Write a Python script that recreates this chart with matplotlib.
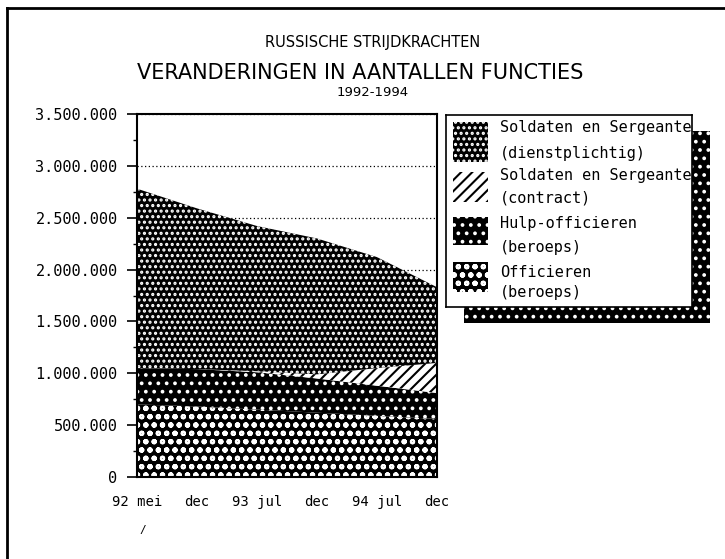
import numpy as np
import matplotlib.pyplot as plt
from matplotlib.patches import Rectangle
from matplotlib.lines import Line2D

plt.rcParams['font.family'] = ['DejaVu Sans Mono']
plt.rcParams['hatch.linewidth'] = 1.5

# x categories (equally spaced on the chart)
periods = ["92 mei", "dec", "93 jul", "dec", "94 jul", "dec"]

# number of posts, x1000 (stack order bottom -> top)
officieren = [700, 680, 650, 620, 590, 560]
hulp_officieren = [350, 360, 360, 330, 290, 250]
contract = [0, 0, 10, 40, 170, 290]
dienstplichtig = [1730, 1550, 1400, 1310, 1070, 730]

y_ticks = [0, 500000, 1000000, 1500000, 2000000, 2500000, 3000000, 3500000]
y_labels = ["0", "500.000", "1.000.000", "1.500.000", "2.000.000",
            "2.500.000", "3.000.000", "3.500.000"]

legend_lines = [("Soldaten en Sergeanten", "(dienstplichtig)"),
                ("Soldaten en Sergeanten", "(contract)"),
                ("Hulp-officieren", "(beroeps)"),
                ("Officieren", "(beroeps)")]

# face, hatch colour, hatch  (same order as the stack)
styles = [("black", "white", "oo"),
          ("black", "white", ".."),
          ("white", "black", "///"),
          ("black", "white", "...")]

fig = plt.figure(figsize=(7.25, 5.59), dpi=100)
W, H = 725, 559

ax = fig.add_axes([137 / W, 1 - 477 / H, 300 / W, 363 / H])
x = np.arange(len(periods))
layers = [officieren, hulp_officieren, contract, dienstplichtig]
base = np.zeros(len(x))
for vals, (fc, hc, h) in zip(layers, styles):
    top = base + np.array(vals) * 1000
    ax.fill_between(x, base, top, facecolor=fc, edgecolor=hc, hatch=h,
                    linewidth=0, zorder=2)
    base = top

ax.set_xlim(0, len(x) - 1)
ax.set_ylim(0, 3500000)
ax.set_yticks(y_ticks, y_labels)
ax.set_yticks(np.arange(250000, 3500000, 500000), minor=True)
ax.set_xticks(x, periods)
ax.set_xticks(x[1:-1], minor=True)
ax.tick_params(axis='y', which='major', length=7, width=1.2, pad=7, labelsize=11)
ax.tick_params(axis='y', which='minor', length=3, width=1.0)
ax.tick_params(axis='x', which='major', length=0, pad=13, labelsize=10)
ax.tick_params(axis='x', which='minor', length=8, width=1.5)
ax.set_axisbelow(True)
ax.grid(axis='y', linestyle=(0, (1, 2)), color='black', linewidth=0.9, zorder=1)
for sp in ax.spines.values():
    sp.set_linewidth(1.5)

# titles
fig.text(0.514, 1 - 42 / H, "RUSSISCHE STRIJDKRACHTEN", ha='center', va='center',
         fontsize=10.5, family='DejaVu Sans')
fig.text(0.497, 1 - 73 / H, "VERANDERINGEN IN AANTALLEN FUNCTIES", ha='center',
         va='center', fontsize=15, family='DejaVu Sans')
fig.text(0.514, 1 - 93 / H, "1992-1994", ha='center', va='center', fontsize=9.5,
         family='DejaVu Sans')
fig.text(143 / W, 1 - 530 / H, "/", ha='center', va='center', fontsize=8)

# page border (top and left edge)
fig.add_artist(Line2D([7 / W, 1], [1 - 8 / H, 1 - 8 / H], color='black', linewidth=2))
fig.add_artist(Line2D([7 / W, 7 / W], [0, 1 - 8 / H], color='black', linewidth=2))

# legend with dotted drop shadow
sax = fig.add_axes([464 / W, 1 - 323 / H, 246 / W, 192 / H])
sax.add_patch(Rectangle((0, 0), 1, 1, transform=sax.transAxes, facecolor='black',
                        edgecolor='white', hatch='..', linewidth=0))
sax.axis('off')

lax = fig.add_axes([446 / W, 1 - 307 / H, 246 / W, 192 / H])
lax.set_xlim(0, 1)
lax.set_ylim(0, 1)
lax.set_xticks([])
lax.set_yticks([])
for sp in lax.spines.values():
    sp.set_linewidth(1.2)

swatch_y = [(0.755, 0.964), (0.547, 0.703), (0.323, 0.469), (0.078, 0.234)]
text_y = [(0.9375, 0.802), (0.6875, 0.568), (0.4375, 0.3125), (0.182, 0.073)]
legend_styles = styles[::-1]
for (lo, hi), (t1, t2), (l1, l2), (fc, hc, h) in zip(swatch_y, text_y,
                                                     legend_lines, legend_styles):
    lax.add_patch(Rectangle((0.028, lo), 0.142, hi - lo, facecolor=fc,
                            edgecolor=hc, hatch=h, linewidth=0))
    lax.text(0.22, t1, l1, va='center', ha='left', fontsize=11, clip_on=True)
    lax.text(0.22, t2, l2, va='center', ha='left', fontsize=11, clip_on=True)

fig.savefig("out.png", dpi=100)
